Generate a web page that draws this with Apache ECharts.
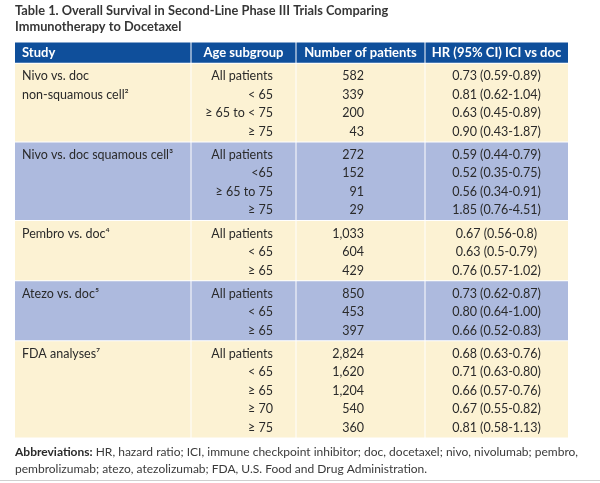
<!DOCTYPE html>
<html>
<head>
<meta charset="utf-8">
<script src="https://cdn.jsdelivr.net/npm/echarts@6/dist/echarts.min.js"></script>
<style>html,body{margin:0;padding:0;background:#fff}#main{width:600px;height:483px}</style>
</head>
<body>
<div id="main"></div>
<script>
// ---------- data ----------
const titleLines = ["Table 1. Overall Survival in Second-Line Phase III Trials Comparing", "Immunotherapy to Docetaxel"];
const headers = ["Study", "Age subgroup", "Number of patients", "HR (95% CI) ICI vs doc"];
const studies = ["Nivo vs. doc\nnon-squamous cell²", "Nivo vs. doc squamous cell³", "Pembro vs. doc⁴", "Atezo vs. doc⁵", "FDA analyses⁷"];
const ageGroups = [
  ["All patients", "< 65", "≥ 65 to < 75", "≥ 75"],
  ["All patients", "<65", "≥ 65 to 75", "≥ 75"],
  ["All patients", "< 65", "≥ 65"],
  ["All patients", "< 65", "≥ 65"],
  ["All patients", "< 65", "≥ 65", "≥ 70", "≥ 75"]
];
const patients = [
  [582, 339, 200, 43],
  [272, 152, 91, 29],
  [1033, 604, 429],
  [850, 453, 397],
  [2824, 1620, 1204, 540, 360]
];
const hazardRatios = [
  ["0.73 (0.59-0.89)", "0.81 (0.62-1.04)", "0.63 (0.45-0.89)", "0.90 (0.43-1.87)"],
  ["0.59 (0.44-0.79)", "0.52 (0.35-0.75)", "0.56 (0.34-0.91)", "1.85 (0.76-4.51)"],
  ["0.67 (0.56-0.8)", "0.63 (0.5-0.79)", "0.76 (0.57-1.02)"],
  ["0.73 (0.62-0.87)", "0.80 (0.64-1.00)", "0.66 (0.52-0.83)"],
  ["0.68 (0.63-0.76)", "0.71 (0.63-0.80)", "0.66 (0.57-0.76)", "0.67 (0.55-0.82)", "0.81 (0.58-1.13)"]
];
const footBold = "Abbreviations:";
const footLines = [
  " HR, hazard ratio; ICI, immune checkpoint inhibitor; doc, docetaxel; nivo, nivolumab; pembro,",
  "pembrolizumab; atezo, atezolizumab; FDA, U.S. Food and Drug Administration."
];

// ---------- layout / style ----------
const FONT = 'Lato';
const colEdges = [0, 176, 281, 410, 553];
const headerH = 1.15;
const padTop = 0.2, padBottom = 0.05;
const headerColor = '#0f4f9b';
const groupColors = ['#fcf2d3', '#adbade'];
const textColor = '#2a2a2a';

// group start positions (in row units)
const groupStart = [];
let acc = 0;
studies.forEach((s, g) => { groupStart.push(acc); acc += ageGroups[g].length + padTop + padBottom; });
const totalRows = acc;

// background cells
const bgData = [];
for (let c = 0; c < 4; c++) bgData.push([c, -headerH, 0, -1]);
studies.forEach((s, g) => {
  for (let c = 0; c < 4; c++) bgData.push([c, groupStart[g], groupStart[g] + ageGroups[g].length + padTop + padBottom, g % 2]);
});

// text cells
const textCells = [];
const colCenter = c => (colEdges[c] + colEdges[c + 1]) / 2;
headers.forEach((h, c) => {
  textCells.push({x: c === 0 ? 7 : colCenter(c), y: -headerH / 2, text: h, align: c === 0 ? 'left' : 'center', bold: true, color: '#ffffff'});
});
studies.forEach((s, g) => {
  const rowY = i => groupStart[g] + padTop + i + 0.5;
  s.split('\n').forEach((line, i) => textCells.push({x: 7, y: rowY(i), text: line, align: 'left'}));
  ageGroups[g].forEach((a, i) => textCells.push({x: 258, y: rowY(i), text: a, align: 'right'}));
  patients[g].forEach((p, i) => textCells.push({x: 349, y: rowY(i), text: p.toLocaleString('en-US'), align: 'right'}));
  hazardRatios[g].forEach((h, i) => textCells.push({x: colCenter(3), y: rowY(i), text: h, align: 'center'}));
});

const chart = echarts.init(document.getElementById('main'), null, {renderer: 'canvas'});
chart.setOption({
  animation: false,
  backgroundColor: '#ffffff',
  title: [
    {
      text: titleLines.join('\n'), left: 15, top: 3, padding: 0,
      textStyle: {fontFamily: FONT, fontWeight: 'bold', fontSize: 12.8, color: '#363636', lineHeight: 16}
    },
    {
      text: '{b|' + footBold + '}' + footLines.join('\n'), left: 15, top: 444, padding: 0,
      textStyle: {fontFamily: FONT, fontWeight: 'normal', fontSize: 12, color: '#3a3a3a', lineHeight: 17,
        rich: {b: {fontFamily: FONT, fontWeight: 'bold', fontSize: 12, color: '#2a2a2a', lineHeight: 17}}}
    }
  ],
  grid: {left: 15, right: 32, top: 42, bottom: 45},
  xAxis: {type: 'value', min: 0, max: colEdges[4], show: false},
  yAxis: {type: 'value', min: -headerH, max: totalRows, inverse: true, show: false},
  graphic: [{type: 'rect', shape: {x: 0, y: 480, width: 600, height: 1}, style: {fill: '#cfcfcf'}}],
  series: [
    {
      type: 'custom', silent: true,
      data: bgData,
      renderItem: (params, api) => {
        const c = api.value(0);
        const p0 = api.coord([colEdges[c], api.value(1)]);
        const p1 = api.coord([colEdges[c + 1], api.value(2)]);
        const k = api.value(3);
        const l = c === 0 ? 0 : 0.5, r = c === 3 ? 0 : 0.5;
        return {type: 'rect', shape: {x: p0[0] + l, y: p0[1] + 0.5, width: p1[0] - p0[0] - l - r, height: p1[1] - p0[1] - 1},
          style: {fill: k < 0 ? headerColor : groupColors[k]}};
      }
    },
    {
      type: 'custom', silent: true,
      data: textCells.map(t => [t.x, t.y]),
      renderItem: (params, api) => {
        const t = textCells[params.dataIndex];
        const p = api.coord([api.value(0), api.value(1)]);
        return {type: 'text', x: p[0], y: p[1], z2: 10,
          style: {text: t.text, fill: t.color || textColor, align: t.align, verticalAlign: 'middle',
            fontFamily: FONT, fontSize: t.bold ? 13 : 12.5, fontWeight: t.bold ? 'bold' : 'normal'}};
      }
    }
  ]
});
</script>
</body>
</html>
